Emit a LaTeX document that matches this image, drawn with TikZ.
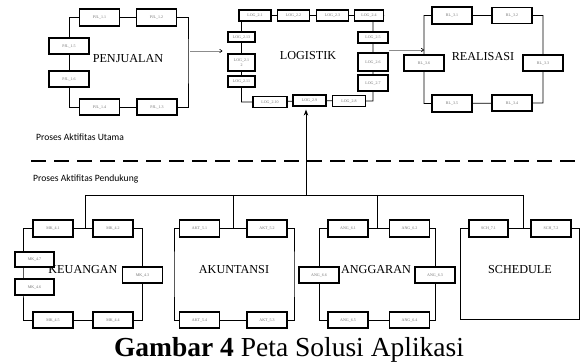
\documentclass[tikz,border=0pt]{standalone}
\usepackage{fontspec}
\setmainfont{Liberation Serif}
\newfontfamily\notesans{Carlito}
\usetikzlibrary{backgrounds,arrows.meta,calc}

\begin{document}
\begin{tikzpicture}[x=1pt,y=-1pt,
  bx/.style={draw=black, line width=1.2pt, fill=white, inner sep=0pt,
    align=center, text=black!55, font=\fontsize{4}{4.6}\selectfont,
    minimum width=40pt, minimum height=16pt},
  lbx/.style={bx, minimum width=32pt, minimum height=11pt},
  frame/.style={draw=black, line width=0.8pt},
  title/.style={font=\fontsize{12.2}{14}\selectfont},
  note/.style={font=\notesans\fontsize{9.6}{11}\selectfont, anchor=west, inner sep=0pt},
  flow/.style={draw=black!45, line width=0.6pt, -{To[length=3pt,width=4pt,black]}}
]
\useasboundingbox (0,0) rectangle (581,363);

% ---- group titles (boxes are drawn over them) ----
\node[title] (tP) at (128,59) {PENJUALAN};
\node[title] (tL) at (308,56) {LOGISTIK};
\node[title] (tR) at (483,57) {REALISASI};
\node[title] (tK) at (83,270) {KEUANGAN};
\node[title] (tA) at (234,270) {AKUNTANSI};
\node[title] (tG) at (376,270) {ANGGARAN};
\node[title] (tS) at (520,270) {SCHEDULE};

% ---- PENJUALAN ----
\node[bx, minimum height=17pt] (p11) at (99.5,17.5) {PJL\_1.1};
\node[bx, minimum height=17pt] (p12) at (156.5,17.5) {PJL\_1.2};
\node[bx] (p15) at (69,46) {PJL\_1.5};
\node[bx] (p16) at (69,79) {PJL\_1.6};
\node[bx] (p14) at (99.5,107) {PJL\_1.4};
\node[bx] (p13) at (157,107) {PJL\_1.3};
\coordinate (pR) at (188,60);

% ---- LOGISTIK ----
\node[lbx] (l1) at (255,15.5) {LOG\_2.1};
\node[lbx] (l2) at (293.5,15.5) {LOG\_2.2};
\node[lbx] (l3) at (332.5,15.5) {LOG\_2.3};
\node[lbx, minimum width=29pt] (l4) at (369,15.5) {LOG\_2.4};
\node[lbx, minimum width=30pt] (l5) at (373,37.5) {LOG\_2.5};
\node[lbx, minimum width=30pt, minimum height=18pt] (l6) at (373,62) {LOG\_2.6};
\node[lbx, minimum width=30pt, minimum height=16pt] (l7) at (373,83) {LOG\_2.7};
\node[lbx, minimum width=33pt] (l8) at (349,101) {LOG\_2.8};
\node[lbx, minimum width=33pt] (l9) at (309.5,100.5) {LOG\_2.9};
\node[lbx, minimum width=34pt] (l10) at (270,102) {LOG\_2.10};
\node[lbx, minimum width=27pt] (l11) at (241.5,81.5) {LOG\_2.11};
\node[lbx, minimum width=27pt, minimum height=17pt] (l12) at (241.5,62.5) {LOG\_2.1\\2};
\node[lbx, minimum width=27pt, minimum height=10pt] (l13) at (241.5,37) {LOG\_2.13};

% ---- REALISASI ----
\node[bx, minimum height=17pt] (r1) at (452,15.5) {RL\_3.1};
\node[bx] (r2) at (512,15.5) {RL\_3.2};
\node[bx] (r3) at (543,63) {RL\_3.3};
\node[bx] (r4) at (512,103) {RL\_3.4};
\node[bx, minimum height=17pt] (r5) at (452,103.5) {RL\_3.5};
\node[bx] (r6) at (424,63) {RL\_3.6};

% ---- KEUANGAN ----
\node[bx, minimum height=17pt] (k1) at (53,228.5) {MK\_4.1};
\node[bx, minimum height=17pt] (k2) at (113,228.5) {MK\_4.2};
\node[bx] (k3) at (142.5,275) {MK\_4.3};
\node[bx] (k4) at (113,320) {MK\_4.4};
\node[bx] (k5) at (53,320) {MK\_4.5};
\node[bx, minimum width=39pt] (k6) at (34.5,287) {MK\_4.6};
\node[bx, minimum width=39pt, minimum height=15pt] (k7) at (34.5,259.5) {MK\_4.7};
\coordinate (kL) at (23,275);

% ---- AKUNTANSI ----
\node[bx, minimum height=17pt] (a1) at (199.5,228.5) {AKT\_5.1};
\node[bx, minimum height=17pt] (a2) at (267,228.5) {AKT\_5.2};
\node[bx] (a3) at (267,320) {AKT\_5.3};
\node[bx] (a4) at (199.5,320) {AKT\_5.4};
\coordinate (aL) at (174,274);
\coordinate (aR) at (294,274);

% ---- ANGGARAN ----
\node[bx, minimum height=17pt] (g1) at (348,228.5) {ANG\_6.1};
\node[bx, minimum height=17pt] (g2) at (409.5,228.5) {ANG\_6.2};
\node[bx] (g3) at (435,275) {ANG\_6.3};
\node[bx] (g4) at (409.5,320) {ANG\_6.4};
\node[bx] (g5) at (348,320) {ANG\_6.5};
\node[bx] (g6) at (319,275) {ANG\_6.6};

% ---- SCHEDULE ----
\node[bx, minimum width=39pt, minimum height=17pt] (s1) at (488.5,228.5) {SCH\_7.1};
\node[bx, minimum height=17pt] (s2) at (551,228.5) {SCH\_7.2};
\coordinate (sR) at (579.5,319);
\coordinate (sL) at (460.5,319);

% ---- frames behind the boxes ----
\begin{scope}[on background layer]
  \draw[frame] (p11) -- (p12) -| (pR) |- (p13) -- (p14) -| (p16) -- (p15) |- (p11);
  \draw[frame] (l1) -- (l2) -- (l3) -- (l4) -| (l5) -- (l6) -- (l7) |- (l8)
               -- (l9) -- (l10) -| (l11) -- (l12) -- (l13) |- (l1);
  \draw[frame] (r1) -- (r2) -| (r3) |- (r4) -- (r5) -| (r6) |- (r1);
  \draw[frame] (k1) -- (k2) -| (k3) |- (k4) -- (k5) -| (kL) |- (k1);
  \draw[frame] (a1) -- (a2) -| (aR) |- (a3) -- (a4) -| (aL) |- (a1);
  \draw[frame] (g1) -- (g2) -| (g3) |- (g4) -- (g5) -| (g6) |- (g1);
  \draw[frame, line width=0.6pt] (s1) -- (s2) -| (sR) -- (sL) |- (s1);
\end{scope}

% ---- flow between the main activities ----
\coordinate (pjOut) at (190,51);
\coordinate (lgOut) at (389,50);
\draw[flow] (pjOut) -- ([xshift=-5pt]l13.west |- pjOut);
\draw[flow] (lgOut) -- (r6 |- lgOut);

% ---- separator between main and support activities ----
\node[note] (tU) at (36,137) {Proses Aktifitas Utama};
\node[note] (tD) at (33,178.5) {Proses Aktifitas Pendukung};
\coordinate (dL) at (31,161);
\coordinate (dR) at (581,161);
\draw[line width=1.7pt, dash pattern=on 15pt off 8pt] (dL) -- (dR);

% ---- support bus ----
\coordinate (b1) at (85,195);
\coordinate (bA) at (233,195);
\coordinate (bL) at (306,195);
\coordinate (bG) at (377,195);
\coordinate (bS) at (523,195);
\draw[frame] (b1) -- (bS);
\draw[frame] (b1) -- (b1 |- k1);
\draw[frame] (bA) -- (bA |- a1);
\draw[frame] (bG) -- (bG |- g1);
\draw[frame] (bS) -- (bS |- s1);
\draw[frame, -{Stealth[length=6pt,width=4.5pt]}, shorten >=3pt] (bL) -- (bL |- l9.south);

% ---- caption ----
\node[anchor=base, inner sep=0pt, font=\fontsize{27.5}{31}\selectfont] (cap) at (289,356.5)
  {\textbf{Gambar 4} Peta Solusi Aplikasi};
\end{tikzpicture}
\end{document}
